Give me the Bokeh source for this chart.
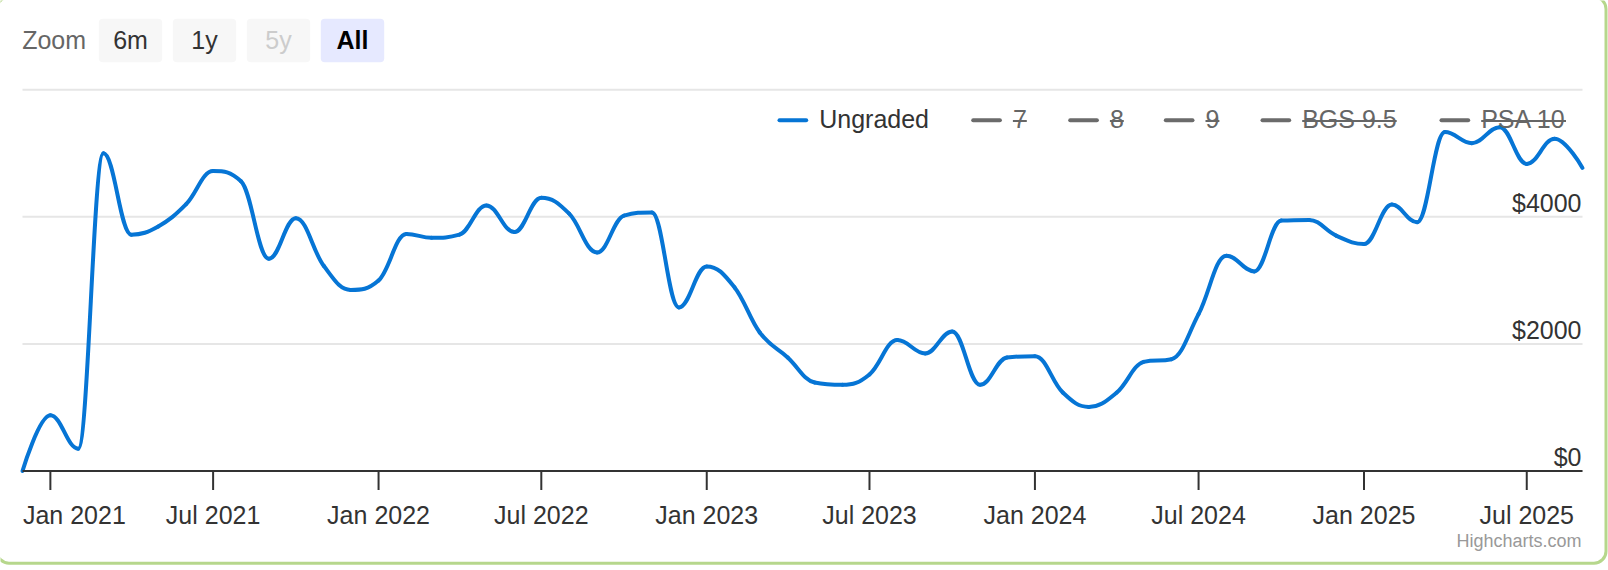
import math
import pandas as pd
from bokeh.plotting import figure
from bokeh.models import Range1d, ColumnDataSource, Label, BoxAnnotation, Grid
from bokeh.core.properties import value
from bokeh.embed import file_html
from bokeh.resources import INLINE

# ---------------- data ----------------
MONTHS = pd.date_range("2020-12-01", "2025-09-01", freq="MS")
UNGRADED = [
    0,                                                                        # Dec 2020
    877, 352, 5000, 3720, 3850, 4200, 4720, 4560, 3340, 3980, 3230, 2850,     # 2021
    3000, 3730, 3670, 3720, 4180, 3760, 4300, 4050, 3440, 4020, 4070, 2575,   # 2022
    3220, 2890, 2180, 1787, 1393, 1356, 1520, 2060, 1850, 2197, 1356, 1787,   # 2023
    1808, 1235, 1009, 1235, 1718, 1760, 2470, 3389, 3142, 3941, 3952, 3705,   # 2024
    3573, 4193, 3915, 5334, 5160, 5412, 4834, 5229, 4771,                     # 2025
]
SERIES = ["Ungraded", "7", "8", "9", "BGS 9.5", "PSA 10"]
SERIES_VISIBLE = [True, False, False, False, False, False]
X_TICK_LABELS = ["Jan 2021", "Jul 2021", "Jan 2022", "Jul 2022", "Jan 2023",
                 "Jul 2023", "Jan 2024", "Jul 2024", "Jan 2025", "Jul 2025"]
Y_TICKS = [0, 2000, 4000, 6000]
Y_LABELED = [0, 2000, 4000]
Y_TICK_LABELS = ["$0", "$2000", "$4000"]
ZOOM_BUTTONS = ["6m", "1y", "5y", "All"]
ZOOM_STATE = ["normal", "normal", "disabled", "selected"]

# ---------------- layout / style ----------------
FONT = "Liberation Sans"
FS_PX = 25
FS = f"{FS_PX}px"
BLUE = "#0675d5"
W, H = 1608, 570          # canvas
OFF = 0                   # picture origin == canvas origin
PL, PR, PT, PB = 22, 1582, 89.3, 470.5      # plot area (picture px)
BASE_FIX = 0.38           # alphabetic-baseline correction (fraction of font size)


def cx(X):
    return X - OFF


def sy(Y):
    return H - (Y - OFF)


def to_ms(ts):
    return [pd.Timestamp(t).timestamp() * 1000.0 for t in ts]


def spline_segments(xs, ys, smoothing=1.5):
    n = len(xs)
    denom = smoothing + 1
    lc = [(x, y) for x, y in zip(xs, ys)]
    rc = [(x, y) for x, y in zip(xs, ys)]
    for i in range(1, n - 1):
        px, py = xs[i], ys[i]
        lx, ly = xs[i - 1], ys[i - 1]
        nx, ny = xs[i + 1], ys[i + 1]
        lcx = (smoothing * px + lx) / denom
        lcy = (smoothing * py + ly) / denom
        rcx = (smoothing * px + nx) / denom
        rcy = (smoothing * py + ny) / denom
        if rcx != lcx:
            corr = (rcy - lcy) * (rcx - px) / (rcx - lcx) + py - rcy
            lcy += corr
            rcy += corr
            if lcy > ly and lcy > py:
                lcy = max(ly, py); rcy = 2 * py - lcy
            elif lcy < ly and lcy < py:
                lcy = min(ly, py); rcy = 2 * py - lcy
            if rcy > ny and rcy > py:
                rcy = max(ny, py); lcy = 2 * py - rcy
            elif rcy < ny and rcy < py:
                rcy = min(ny, py); lcy = 2 * py - rcy
        lc[i] = (lcx, lcy)
        rc[i] = (rcx, rcy)
    d = dict(x0=[], y0=[], x1=[], y1=[], cx0=[], cy0=[], cx1=[], cy1=[])
    for i in range(1, n):
        d["x0"].append(xs[i - 1]); d["y0"].append(ys[i - 1])
        d["cx0"].append(rc[i - 1][0]); d["cy0"].append(rc[i - 1][1])
        d["cx1"].append(lc[i][0]); d["cy1"].append(lc[i][1])
        d["x1"].append(xs[i]); d["y1"].append(ys[i])
    return d


# ranges: the frame fills the canvas; the plot area sits at PL..PR / PT..PB
t_ms = to_ms(MONTHS)
t0, t1 = t_ms[0], t_ms[-1]
kx = (t1 - t0) / (PR - PL)
ky = (Y_TICKS[-1] - Y_TICKS[0]) / (PB - PT)
x_range = Range1d(t0 - cx(PL) * kx, t1 + (W - cx(PR)) * kx)
y_range = Range1d(Y_TICKS[0] - (H - (PB - OFF)) * ky, Y_TICKS[-1] + (PT - OFF) * ky)

p = figure(width=W, height=H, output_backend="svg", toolbar_location=None,
           x_range=x_range, y_range=y_range,
           x_axis_location=None, y_axis_location=None,
           min_border=0, min_border_left=0, min_border_right=0,
           min_border_top=0, min_border_bottom=0, outline_line_color=None,
           background_fill_color="white", border_fill_color="white")
p.center = [r for r in p.center if not isinstance(r, Grid)]

# horizontal grid lines across the plot area
n_y = len(Y_TICKS)
p.segment(x0=[MONTHS[0]] * n_y, y0=Y_TICKS, x1=[MONTHS[-1]] * n_y, y1=Y_TICKS,
          line_color="#e6e6e6", line_width=2)

# spline series
seg = spline_segments(t_ms, [float(v) for v in UNGRADED])
p.bezier(x0="x0", y0="y0", x1="x1", y1="y1", cx0="cx0", cy0="cy0", cx1="cx1", cy1="cy1",
         source=ColumnDataSource(seg), line_color=BLUE, line_width=4, line_cap="round")

# x axis line and ticks
p.segment(x0=[MONTHS[0]], y0=[0], x1=[MONTHS[-1]], y1=[0], line_color="#333333", line_width=2)
tick_dates = pd.to_datetime(X_TICK_LABELS, format="%b %Y")
n_x = len(X_TICK_LABELS)
p.ray(x=list(tick_dates), y=[0] * n_x, length=19, length_units="screen",
      angle=-math.pi / 2, line_color="#333333", line_width=2)

# x labels below the axis (first label pushed inside the chart like Highcharts)
FIRST_LABEL_SHIFT = 24
xsrc = ColumnDataSource(dict(x=list(tick_dates), y=[0] * n_x, text=X_TICK_LABELS,
                             dx=[FIRST_LABEL_SHIFT] + [0] * (n_x - 1)))
p.text(x="x", y="y", text="text", source=xsrc, x_offset="dx",
       y_offset=(524.3 - PB) - BASE_FIX * FS_PX,
       text_align="center", text_baseline="alphabetic",
       text_font=value(FONT), text_font_size=FS, text_color="#333333")

# y labels inside plot, right aligned, sitting on their grid lines
ysrc = ColumnDataSource(dict(x=[MONTHS[-1]] * len(Y_LABELED), y=Y_LABELED, text=Y_TICK_LABELS))
p.text(x="x", y="y", text="text", source=ysrc, text_align="right",
       text_baseline="alphabetic", x_offset=-1, y_offset=-4.4 - BASE_FIX * FS_PX,
       text_font=value(FONT), text_font_size=FS, text_color="#333333")


def box(x0, x1, y0, y1, color, radius=0):
    p.add_layout(BoxAnnotation(left=cx(x0), right=cx(x1), top=sy(y0), bottom=sy(y1),
                               left_units="screen", right_units="screen",
                               top_units="screen", bottom_units="screen",
                               fill_color=color, fill_alpha=1.0, line_color=None,
                               border_radius=radius, level="overlay"))


def label(X, Y, text, color, align="left", size_px=FS_PX, style="normal"):
    p.add_layout(Label(x=cx(X), y=sy(Y - BASE_FIX * size_px), x_units="screen", y_units="screen",
                       text=text, text_align=align, text_baseline="alphabetic",
                       text_font=FONT, text_font_size=f"{size_px}px", text_color=color,
                       text_font_style=style, level="overlay"))


# range selector ("Zoom" buttons)
label(21.7, 49.3, "Zoom", "#666666")
BTN_LEFT = [98.3, 172.3, 246.3, 320.3]
BTN_W = 63.4
for name, state, bl in zip(ZOOM_BUTTONS, ZOOM_STATE, BTN_LEFT):
    fill = "#e6e9ff" if state == "selected" else "#f7f7f7"
    box(bl, bl + BTN_W, 18.3, 61.7, fill, radius=4)
    col = {"normal": "#333333", "disabled": "#cccccc", "selected": "#000000"}[state]
    label(bl + BTN_W / 2, 49.0, name, col, align="center",
          style="bold" if state == "selected" else "normal")

# legend (hidden series struck through)
LEG_LEFT = [777.0, 970.7, 1067.7, 1163.3, 1260.0, 1439.0]
STRIKE_W = {"7": 13.9, "8": 13.9, "9": 13.9, "BGS 9.5": 94.5, "PSA 10": 84.8}
for name, vis, lx in zip(SERIES, SERIES_VISIBLE, LEG_LEFT):
    sym_col = BLUE if vis else "#6b6b6b"
    txt_col = "#333333" if vis else "#666666"
    box(lx, lx + 30.7, 117.7, 121.7, sym_col, radius=2)
    label(lx + 41.7, 128.3, name, txt_col)
    if not vis:
        box(lx + 41.7, lx + 41.7 + STRIKE_W[name], 119.5, 121.5, txt_col)

# credits
label(1581.0, 547.3, "Highcharts.com", "#999999", align="right", size_px=18)

# container border (rounded, light green); its left and top edges lie just off the picture
p.add_layout(BoxAnnotation(left=cx(-3.5), right=cx(1605.5), top=sy(-3.5), bottom=sy(562.7),
                           left_units="screen", right_units="screen",
                           top_units="screen", bottom_units="screen",
                           fill_color=None, line_color="#b6d78c", line_alpha=1.0,
                           line_width=3, border_radius=12, level="overlay"))

open("out.html", "w").write(file_html(p, INLINE))
